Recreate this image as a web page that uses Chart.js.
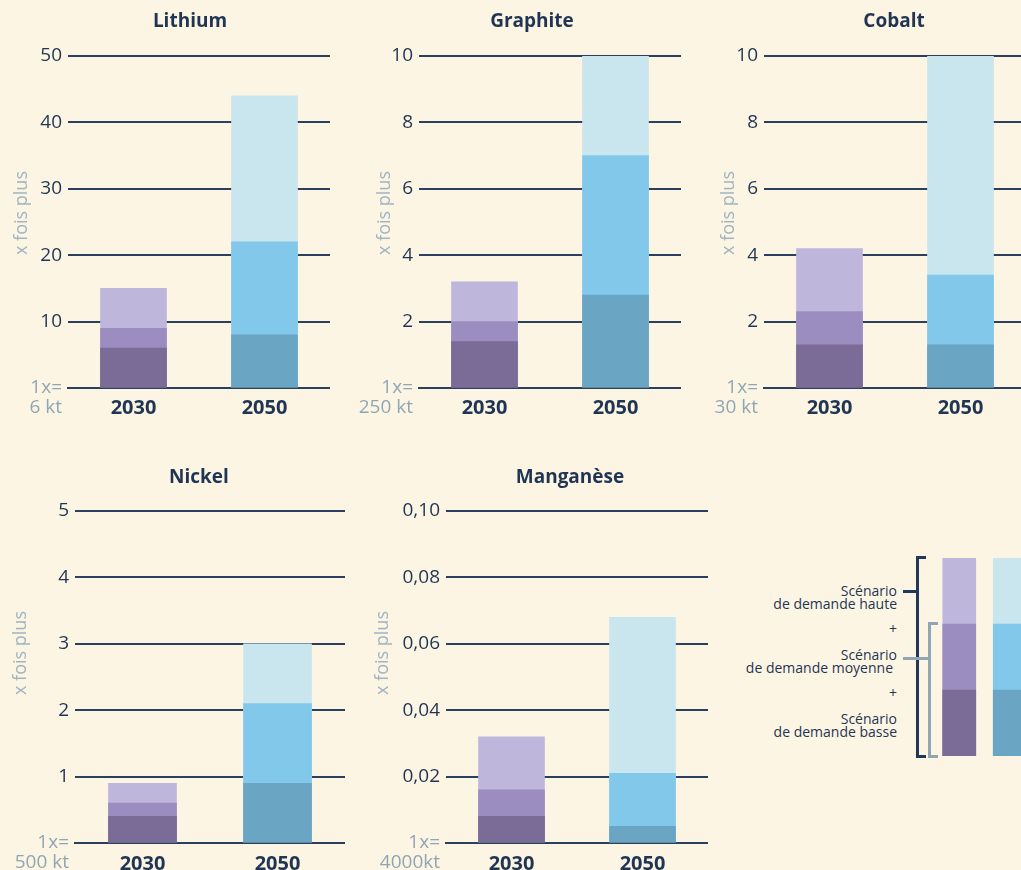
<!DOCTYPE html>
<html lang="fr">
<head>
<meta charset="utf-8">
<title>Demande en minerais 2030 - 2050</title>
<script src="https://cdn.jsdelivr.net/npm/chart.js@4.4.1/dist/chart.umd.min.js"></script>
<style>
    html, body {
        margin: 0;
        padding: 0;
    }
    body {
        position: relative;
        width: 1021px;
        height: 870px;
        overflow: hidden;
        background: #fdf5e4;
        font-family: 'Open Sans', sans-serif;
        color: #1f3553;
    }
    canvas, .title, .y-title, .legend-text, .bracket {
        position: absolute;
    }
    .title {
        width: 200px;
        font-size: 19px;
        font-weight: 700;
        line-height: 24px;
        text-align: center;
    }
    .y-title {
        font-size: 18px;
        line-height: 20px;
        white-space: nowrap;
        color: #9fb4c0;
        transform: translate(-50%, -50%) rotate(-90deg);
    }
    .legend-text {
        left: 697px;
        width: 200px;
        font-size: 14px;
        line-height: 13px;
        text-align: right;
    }
    .bracket.dark {
        background: #22385a;
    }
    .bracket.grey {
        background: #8fa6b4;
    }
</style>
</head>
<body>

<div id="legend">
    <div class="legend-text" style="top: 584px;">Scénario<br>de demande haute</div>
    <div class="legend-text" style="top: 622px;">+</div>
    <div class="legend-text" style="top: 648px;">Scénario<br><span style="padding-right: 4px;">de demande moyenne</span></div>
    <div class="legend-text" style="top: 686px;">+</div>
    <div class="legend-text" style="top: 712px;">Scénario<br>de demande basse</div>

    <div class="bracket dark" style="left: 916px; top: 556px; width: 3px; height: 202px;"></div>
    <div class="bracket dark" style="left: 916px; top: 556px; width: 10px; height: 3px;"></div>
    <div class="bracket dark" style="left: 916px; top: 755px; width: 10px; height: 3px;"></div>
    <div class="bracket dark" style="left: 903px; top: 590px; width: 14px; height: 3px;"></div>

    <div class="bracket grey" style="left: 928px; top: 622px; width: 3px; height: 136px;"></div>
    <div class="bracket grey" style="left: 928px; top: 622px; width: 10px; height: 3px;"></div>
    <div class="bracket grey" style="left: 928px; top: 755px; width: 10px; height: 3px;"></div>
    <div class="bracket grey" style="left: 903px; top: 657px; width: 26px; height: 3px;"></div>
</div>

<script>
const years = ['2030', '2050'];
const minerals = ['Lithium', 'Graphite', 'Cobalt', 'Nickel', 'Manganèse'];
const baseQuantities = ['6 kt', '250 kt', '30 kt', '500 kt', '4000kt'];
const axisMax = [50, 10, 10, 5, 0.1];
const axisStep = [10, 2, 2, 1, 0.02];

// "x fois plus" par scénario, valeurs cumulées (Lithium, Graphite, Cobalt, Nickel, Manganèse)
const basse2030 = [6, 1.4, 1.3, 0.4, 0.008];
const moyenne2030 = [9, 2.0, 2.3, 0.6, 0.016];
const haute2030 = [15, 3.2, 4.2, 0.9, 0.032];
const basse2050 = [8, 2.8, 1.3, 0.9, 0.005];
const moyenne2050 = [22, 7.0, 3.4, 2.1, 0.021];
const haute2050 = [44, 10, 10, 3.0, 0.068];

const scenarios = ['Scénario de demande basse', 'Scénario de demande moyenne', 'Scénario de demande haute'];
const legendLevels = [1, 2, 3];

const colors2030 = ['#7a6c96', '#9c8dc1', '#bfb6db'];
const colors2050 = ['#6aa5c3', '#81c8ea', '#c9e5ee'];
const darkText = '#1f3553';
const greyText = '#8fa7b5';
const lineColor = '#2b405d';

/* where each panel sits on the page */
const boxes = [
    { left: 0,   top: 0,   width: 330, height: 428, axisWidth: 68, padTop: 56, xHeight: 40, labelPad: 0, bar: 66, titleX: 190, titleY: 20,  yTitleX: 20,  yTitleY: 213 },
    { left: 345, top: 0,   width: 336, height: 428, axisWidth: 74, padTop: 56, xHeight: 40, labelPad: 0, bar: 66, titleX: 532, titleY: 20,  yTitleX: 383, yTitleY: 213 },
    { left: 700, top: 0,   width: 326, height: 428, axisWidth: 64, padTop: 56, xHeight: 40, labelPad: 0, bar: 66, titleX: 894, titleY: 20,  yTitleX: 727, yTitleY: 213 },
    { left: 0,   top: 450, width: 345, height: 420, axisWidth: 75, padTop: 61, xHeight: 27, labelPad: 1, bar: 68, titleX: 199, titleY: 476, yTitleX: 19,  yTitleY: 653 },
    { left: 365, top: 450, width: 343, height: 420, axisWidth: 81, padTop: 61, xHeight: 27, labelPad: 1, bar: 66, titleX: 570, titleY: 476, yTitleX: 381, yTitleY: 653 }
];

Chart.defaults.font.family = "'Open Sans', sans-serif";

const _mineralPanel = function(index, box) {
    this.index = index;
    this.box = box;
    this.chart = null;
};

_mineralPanel.prototype.getDatasets = function() {
    const i = this.index;
    const series = [
        [basse2030[i], basse2050[i]],
        [moyenne2030[i], moyenne2050[i]],
        [haute2030[i], haute2050[i]]
    ];

    //bars overlap, the first dataset is drawn on top
    return series.map((data, k) => {
        return {
            label : scenarios[k],
            data : data,
            backgroundColor : [colors2030[k], colors2050[k]],
            borderWidth : 0
        };
    });
};

_mineralPanel.prototype.formatTick = function(value) {
    if (value === 0) {
        return ['', '1x=', baseQuantities[this.index]];
    }
    if (axisStep[this.index] < 1) {
        return value.toFixed(2).replace('.', ',');
    }
    return String(value);
};

_mineralPanel.prototype.addText = function() {
    const title = document.createElement('div');
    title.className = 'title';
    title.textContent = minerals[this.index];
    title.style.left = (this.box.titleX - 100) + 'px';
    title.style.top = (this.box.titleY - 12) + 'px';
    document.body.appendChild(title);

    const yTitle = document.createElement('div');
    yTitle.className = 'y-title';
    yTitle.textContent = 'x fois plus';
    yTitle.style.left = this.box.yTitleX + 'px';
    yTitle.style.top = this.box.yTitleY + 'px';
    document.body.appendChild(yTitle);
};

_mineralPanel.prototype.render = function() {
    const box = this.box;
    const canvas = document.createElement('canvas');
    canvas.width = box.width;
    canvas.height = box.height;
    canvas.style.left = box.left + 'px';
    canvas.style.top = box.top + 'px';
    document.body.appendChild(canvas);

    this.chart = new Chart(canvas.getContext('2d'), {
        type : 'bar',
        data : {
            labels : years,
            datasets : this.getDatasets()
        },
        options : {
            responsive : false,
            animation : false,
            layout : {
                padding : { top : box.padTop, left : 0, right : 0, bottom : 0 }
            },
            datasets : {
                bar : { grouped : false, barThickness : box.bar }
            },
            plugins : {
                legend : { display : false },
                tooltip : { enabled : false }
            },
            scales : {
                x : {
                    z : 1,
                    grid : { display : false },
                    border : { display : true, color : lineColor, width : 2 },
                    ticks : {
                        color : darkText,
                        padding : box.labelPad,
                        font : { size : 20, weight : 'bold' }
                    },
                    afterFit : (scale) => {
                        scale.height = box.xHeight;
                        scale.paddingLeft = 0;
                        scale.paddingRight = 0;
                    }
                },
                y : {
                    min : 0,
                    max : axisMax[this.index],
                    border : { display : false },
                    grid : { color : lineColor, lineWidth : 2, drawTicks : false },
                    ticks : {
                        stepSize : axisStep[this.index],
                        autoSkip : false,
                        padding : 6,
                        font : { size : 19, lineHeight : 1.03 },
                        color : (ctx) => (ctx.tick && ctx.tick.value === 0) ? greyText : darkText,
                        callback : (value) => this.formatTick(value)
                    },
                    afterFit : (scale) => {
                        scale.width = box.axisWidth;
                        scale.paddingTop = 0;
                        scale.paddingBottom = 0;
                    }
                }
            }
        }
    });

    this.addText();
};

/* legend swatches, same overlapping bars */
const renderLegendBars = function() {
    const canvas = document.createElement('canvas');
    canvas.width = 101;
    canvas.height = 198;
    canvas.style.left = '934px';
    canvas.style.top = '558px';
    document.body.appendChild(canvas);

    return new Chart(canvas.getContext('2d'), {
        type : 'bar',
        data : {
            labels : years,
            datasets : scenarios.map((label, k) => {
                return {
                    label : label,
                    data : [legendLevels[k], legendLevels[k]],
                    backgroundColor : [colors2030[k], colors2050[k]],
                    borderWidth : 0
                };
            })
        },
        options : {
            responsive : false,
            animation : false,
            layout : { padding : 0 },
            datasets : {
                bar : { grouped : false, barThickness : 33 }
            },
            plugins : {
                legend : { display : false },
                tooltip : { enabled : false }
            },
            scales : {
                x : { display : false },
                y : { display : false, min : 0, max : legendLevels[legendLevels.length - 1] }
            }
        }
    });
};

window.panels = boxes.map((box, i) => {
    const panel = new _mineralPanel(i, box);
    panel.render();
    return panel;
});
window.legendChart = renderLegendBars();
</script>
</body>
</html>
